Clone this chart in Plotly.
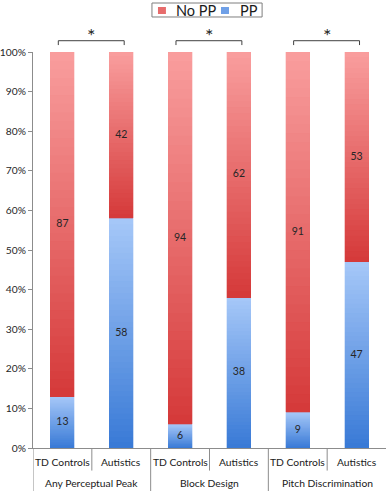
import plotly.graph_objects as go

# ---- data ----
groups = ["Any Perceptual Peak", "Block Design", "Pitch Discrimination"]
subgroups = ["TD Controls", "Autistics"]
pp = [13, 58, 6, 38, 9, 47]
no_pp = [87, 42, 94, 62, 91, 53]
sig_marks = ["*", "*", "*"]
y_tickvals = [0, 10, 20, 30, 40, 50, 60, 70, 80, 90, 100]
y_ticktext = [f"{v}%" for v in y_tickvals]

# ---- styling ----
FONT = "Lato"
N = 40  # gradient slices per segment
red_top, red_bot = (249, 158, 158), (213, 57, 57)
blue_top, blue_bot = (166, 200, 248), (56, 121, 214)


def lerp(c1, c2, t):
    return "rgb(%d,%d,%d)" % tuple(round(a + (b - a) * t) for a, b in zip(c1, c2))


cats = [(g, s) for g in groups for s in subgroups]
x_idx = list(range(len(cats)))
fig = go.Figure()

for name, vals, bot, top in [("PP", pp, blue_bot, blue_top),
                             ("No PP", no_pp, red_bot, red_top)]:
    for i in range(N):
        col = lerp(bot, top, (i + 0.5) / N)
        fig.add_trace(go.Bar(
            x=x_idx, y=[v / N for v in vals], width=0.41,
            marker=dict(color=col, line=dict(color=col, width=0.3)),
            name=name, showlegend=False, hoverinfo="skip"))

# data labels
lab_font = dict(family=FONT, size=10.5, color="#262626")
fig.add_trace(go.Scatter(x=x_idx, y=[v / 2 for v in pp], text=[str(v) for v in pp],
                         mode="text", textfont=lab_font, showlegend=False, hoverinfo="skip"))
fig.add_trace(go.Scatter(x=x_idx, y=[p + v / 2 for p, v in zip(pp, no_pp)],
                         text=[str(v) for v in no_pp], mode="text", textfont=lab_font,
                         showlegend=False, hoverinfo="skip"))

shapes = []
annotations = []
line_col = "#8c8c8c"
axis_font = dict(family=FONT, size=10.3, color="#1a1a1a")
y_row1 = (448 - 462) / 396
y_row2 = (448 - 483) / 396
short_bot = -0.057
long_bot = -0.12
for gi, g in enumerate(groups):
    center = gi * 2 + 0.5
    annotations.append(dict(x=center, y=y_row2, xref="x", yref="paper", text=g,
                            yanchor="middle", showarrow=False, font=axis_font))
    for si, s in enumerate(subgroups):
        annotations.append(dict(x=gi * 2 + si, y=y_row1, xref="x", yref="paper", text=s,
                                yanchor="middle", showarrow=False, font=axis_font))
    shapes.append(dict(type="line", xref="x", yref="paper", x0=gi * 2 - 0.5, x1=gi * 2 - 0.5,
                       y0=0, y1=long_bot, line=dict(color=line_col, width=1)))
    shapes.append(dict(type="line", xref="x", yref="paper", x0=gi * 2 + 0.5, x1=gi * 2 + 0.5,
                       y0=0, y1=short_bot, line=dict(color=line_col, width=1)))
    xl, xr = gi * 2 - 0.07, gi * 2 + 1.05
    yb, yt = 1.0175, 1.0285
    shapes.append(dict(type="path", xref="x", yref="paper",
                       path=f"M {xl},{yb} L {xl},{yt} L {xr},{yt} L {xr},{yb}",
                       line=dict(color="#404040", width=1)))
    annotations.append(dict(x=center, y=(448 - 35) / 396, xref="x", yref="paper",
                            text=sig_marks[gi], yanchor="middle", showarrow=False,
                            font=dict(family=FONT, size=20, color="#262626")))

# manual legend (box, swatches, labels)
shapes.append(dict(type="rect", xref="paper", yref="paper", x0=0.337, x1=0.649, y0=1.0884, y1=1.1237,
                   line=dict(color="#7f7f7f", width=1), fillcolor="white"))
for label, bot, top, sx0, tx in [("No PP", red_bot, red_top, 0.354, 0.3994),
                                 ("PP", blue_bot, blue_top, 0.5326, 0.5807)]:
    shapes.append(dict(type="rect", xref="paper", yref="paper", x0=sx0, x1=sx0 + 0.0226,
                       y0=1.096, y1=1.1136, line=dict(width=0), fillcolor=lerp(bot, top, 0.5)))
    annotations.append(dict(x=tx, y=1.106, xref="paper", yref="paper", text=label, xanchor="left",
                            yanchor="middle", showarrow=False,
                            font=dict(family=FONT, size=14.5, color="#1a1a1a")))

fig.update_layout(
    width=387, height=491,
    margin=dict(l=33, r=1, t=52, b=43, autoexpand=False),
    barmode="stack",
    plot_bgcolor="white", paper_bgcolor="white",
    font=dict(family=FONT, size=11, color="#262626"),
    shapes=shapes, annotations=annotations,
    showlegend=False,
    xaxis=dict(range=[-0.5, 5.5], showticklabels=False, showgrid=False, zeroline=False,
               showline=True, linecolor=line_col, linewidth=1, ticks="", automargin=False),
    yaxis=dict(range=[0, 100], tickvals=y_tickvals, ticktext=y_ticktext, showgrid=False,
               zeroline=False, showline=True, linecolor=line_col, linewidth=1,
               ticks="outside", ticklen=4, tickcolor=line_col, automargin=False,
               tickfont=dict(family=FONT, size=10.3, color="#262626")),
)

fig.write_html("out.html", config={"displayModeBar": False},
               post_script="document.body.style.margin='0px';")
